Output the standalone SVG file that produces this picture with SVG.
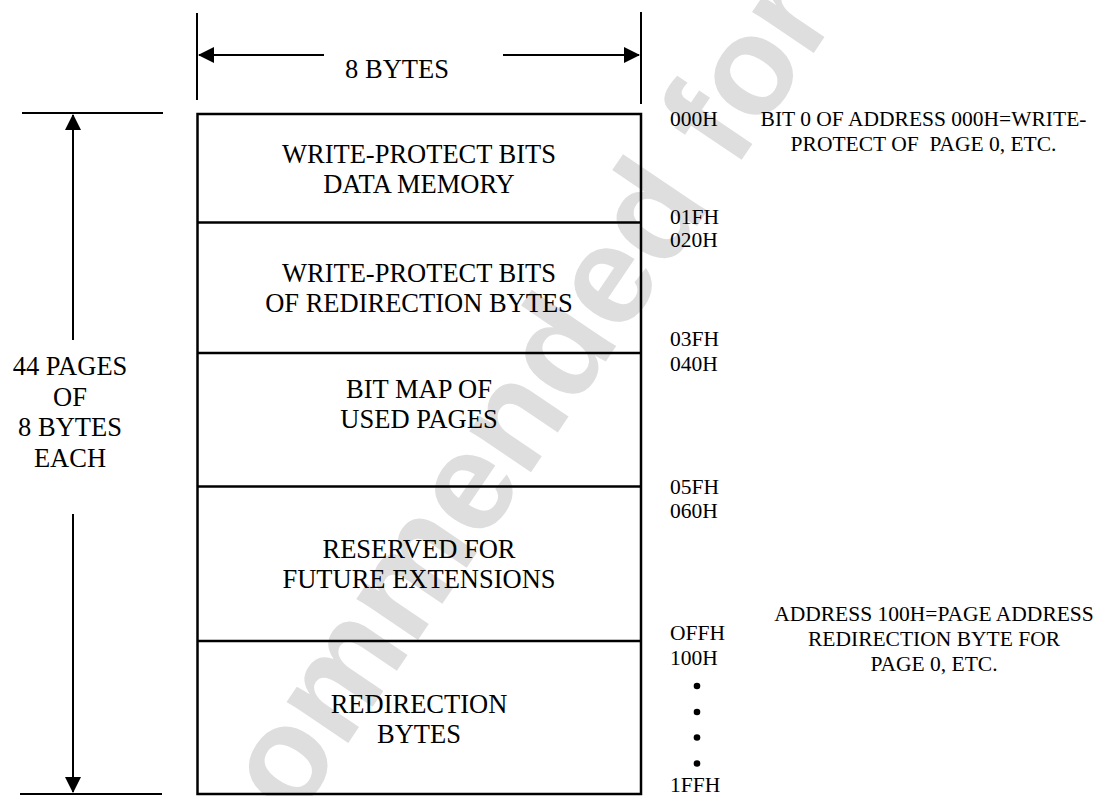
<svg xmlns="http://www.w3.org/2000/svg" width="1095" height="796" viewBox="0 0 1095 796">
<style>
.t{font-family:"Liberation Serif","Times New Roman",serif;font-size:26.5px;fill:#000;}
.a{font-family:"Liberation Serif","Times New Roman",serif;font-size:21.5px;fill:#000;}
.m{text-anchor:middle;}
.ln{stroke:#000;stroke-width:2;fill:none;}
.bx{stroke:#000;stroke-width:2.5;fill:none;}
.wm{font-family:"Liberation Sans",Arial,sans-serif;font-weight:bold;font-size:140px;fill:#dedede;}
</style>
<defs>
<marker id="ah" viewBox="0 0 16 16" refX="15" refY="8" markerWidth="16" markerHeight="16" markerUnits="userSpaceOnUse" orient="auto">
<path d="M0,0 L16,8 L0,16 Z" fill="#000"/>
</marker>
</defs>
<rect width="1095" height="796" fill="#fff"/>
<g id="watermark">
<text class="wm" transform="translate(295,822) rotate(-56)">ommended for</text>
</g>
<g id="connectors">
<line class="ln" x1="197" y1="13" x2="197" y2="100"/>
<line class="ln" x1="641" y1="12" x2="641" y2="104"/>
<line class="ln" x1="324" y1="55" x2="199" y2="55" marker-end="url(#ah)"/>
<line class="ln" x1="503" y1="55" x2="639" y2="55" marker-end="url(#ah)"/>
<line class="ln" x1="22" y1="113" x2="163" y2="113"/>
<line class="ln" x1="20" y1="794" x2="162" y2="794"/>
<line class="ln" x1="73" y1="340" x2="73" y2="115" marker-end="url(#ah)"/>
<line class="ln" x1="73" y1="514" x2="73" y2="792" marker-end="url(#ah)"/>
</g>
<g id="dim-labels">
<text class="t m" x="397" y="78">8 BYTES</text>
<text class="t m" x="70" y="375">44 PAGES</text>
<text class="t m" x="70" y="405.5">OF</text>
<text class="t m" x="70" y="436">8 BYTES</text>
<text class="t m" x="70" y="466.5">EACH</text>
</g>
<g id="box-outline">
<rect class="bx" x="197.5" y="114" width="443.5" height="680"/>
</g>
<g id="node-wp-data">
<line class="bx" x1="197.5" y1="222.5" x2="641" y2="222.5"/>
<text class="t m" x="419" y="163">WRITE-PROTECT BITS</text>
<text class="t m" x="419" y="193">DATA MEMORY</text>
</g>
<g id="node-wp-redir">
<line class="bx" x1="197.5" y1="353" x2="641" y2="353"/>
<text class="t m" x="419" y="282">WRITE-PROTECT BITS</text>
<text class="t m" x="419" y="312">OF REDIRECTION BYTES</text>
</g>
<g id="node-bitmap">
<line class="bx" x1="197.5" y1="486.5" x2="641" y2="486.5"/>
<text class="t m" x="419" y="398">BIT MAP OF</text>
<text class="t m" x="419" y="428">USED PAGES</text>
</g>
<g id="node-reserved">
<line class="bx" x1="197.5" y1="641" x2="641" y2="641"/>
<text class="t m" x="419" y="558">RESERVED FOR</text>
<text class="t m" x="419" y="588">FUTURE EXTENSIONS</text>
</g>
<g id="node-redir">
<text class="t m" x="419" y="713">REDIRECTION</text>
<text class="t m" x="419" y="743">BYTES</text>
</g>
<g id="addresses">
<text class="a" x="670" y="126">000H</text>
<text class="a" x="670" y="224">01FH</text>
<text class="a" x="670" y="247">020H</text>
<text class="a" x="670" y="346">03FH</text>
<text class="a" x="670" y="370.5">040H</text>
<text class="a" x="670" y="494">05FH</text>
<text class="a" x="670" y="518">060H</text>
<text class="a" x="670" y="640">OFFH</text>
<text class="a" x="670" y="665">100H</text>
<circle cx="697" cy="686" r="3.3"/>
<circle cx="697" cy="712" r="3.3"/>
<circle cx="697" cy="737.5" r="3.3"/>
<circle cx="697" cy="763.5" r="3.3"/>
<text class="a" x="670" y="792">1FFH</text>
</g>
<g id="notes">
<text class="a m" x="923.5" y="126">BIT 0 OF ADDRESS 000H=WRITE-</text>
<text class="a m" x="923.5" y="151" xml:space="preserve">PROTECT OF  PAGE 0, ETC.</text>
<text class="a m" x="934" y="621">ADDRESS 100H=PAGE ADDRESS</text>
<text class="a m" x="934" y="646">REDIRECTION BYTE FOR</text>
<text class="a m" x="934" y="671">PAGE 0, ETC.</text>
</g>
</svg>
